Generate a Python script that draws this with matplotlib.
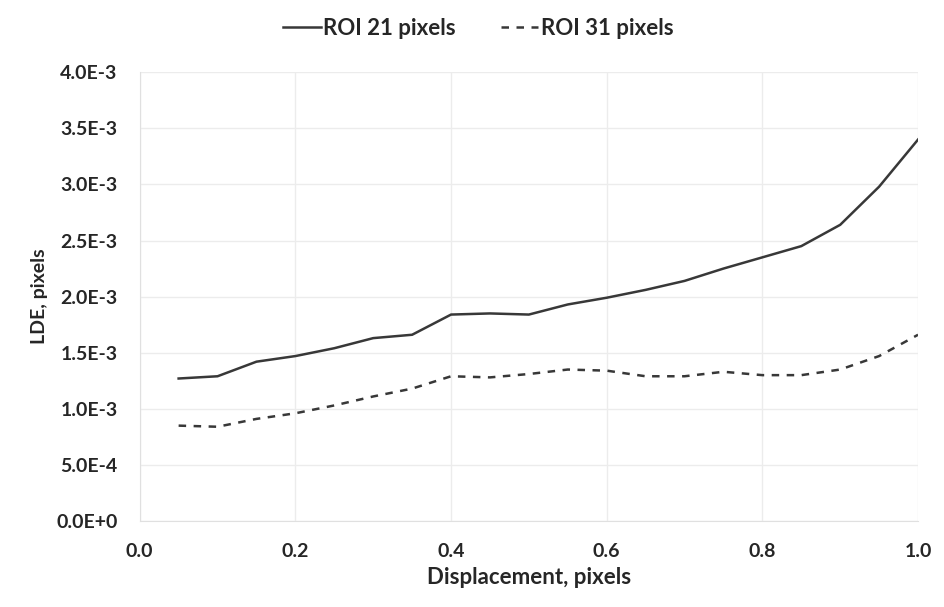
import matplotlib.pyplot as plt
from matplotlib.ticker import FuncFormatter
import numpy as np

displacement = [0.05, 0.10, 0.15, 0.20, 0.25, 0.30, 0.35, 0.40, 0.45, 0.50,
                0.55, 0.60, 0.65, 0.70, 0.75, 0.80, 0.85, 0.90, 0.95, 1.00]
roi21 = [1.27, 1.29, 1.42, 1.47, 1.54, 1.63, 1.66, 1.84, 1.85, 1.84,
         1.93, 1.99, 2.06, 2.14, 2.25, 2.35, 2.45, 2.64, 2.98, 3.40]
roi31 = [0.85, 0.84, 0.91, 0.96, 1.03, 1.11, 1.18, 1.29, 1.28, 1.31,
         1.35, 1.34, 1.29, 1.29, 1.33, 1.30, 1.30, 1.35, 1.47, 1.66]

plt.rcParams['font.family'] = ['Lato', 'DejaVu Sans']
plt.rcParams['font.weight'] = 'bold'

fig = plt.figure(figsize=(9.44, 6.07), dpi=100)
ax = fig.add_axes([0.148, 0.1417, 0.8245, 0.7393])

line_col = '#383838'
ax.plot(displacement, np.array(roi21) * 1e-3, color=line_col, lw=1.8, label='ROI 21 pixels')
ax.plot(displacement, np.array(roi31) * 1e-3, color=line_col, lw=1.8, ls=(0, (3, 3)), label='ROI 31 pixels')

ax.set_xlim(0, 1.0)
ax.set_ylim(0, 4.0e-3)
ax.set_xticks(np.arange(0, 1.01, 0.2))
ax.set_yticks(np.arange(0, 4.01e-3, 0.5e-3))


def sci(v, pos):
    if abs(v) < 1e-12:
        return '0.0E+0'
    exp = int(np.floor(np.log10(abs(v)) + 1e-9))
    return '%.1fE%d' % (v / 10 ** exp, exp)


ax.yaxis.set_major_formatter(FuncFormatter(sci))
ax.xaxis.set_major_formatter(FuncFormatter(lambda v, p: '%.1f' % v))

ax.grid(True, color='#ececec', lw=1)
ax.set_axisbelow(True)
for s in ['top', 'right']:
    ax.spines[s].set_visible(False)
for s in ['left', 'bottom']:
    ax.spines[s].set_color('#e0e0e0')
ax.tick_params(length=0, labelsize=14, colors='#262626')
ax.tick_params(axis='y', pad=16)
ax.tick_params(axis='x', pad=16)
for lab in ax.get_xticklabels() + ax.get_yticklabels():
    lab.set_fontweight('bold')

ax.set_xlabel('Displacement, pixels', fontsize=16, fontweight='bold', color='#262626', labelpad=5)
ax.set_ylabel('LDE, pixels', fontsize=14, fontweight='bold', color='#262626', labelpad=6)

leg = ax.legend(loc='upper center', bbox_to_anchor=(0.435, 1.165), ncol=2, frameon=False,
                handlelength=1.7, handletextpad=0.1, columnspacing=2.0,
                labelcolor='#262626', prop={'weight': 'bold', 'size': 16})

fig.savefig('out.png', dpi=100)
